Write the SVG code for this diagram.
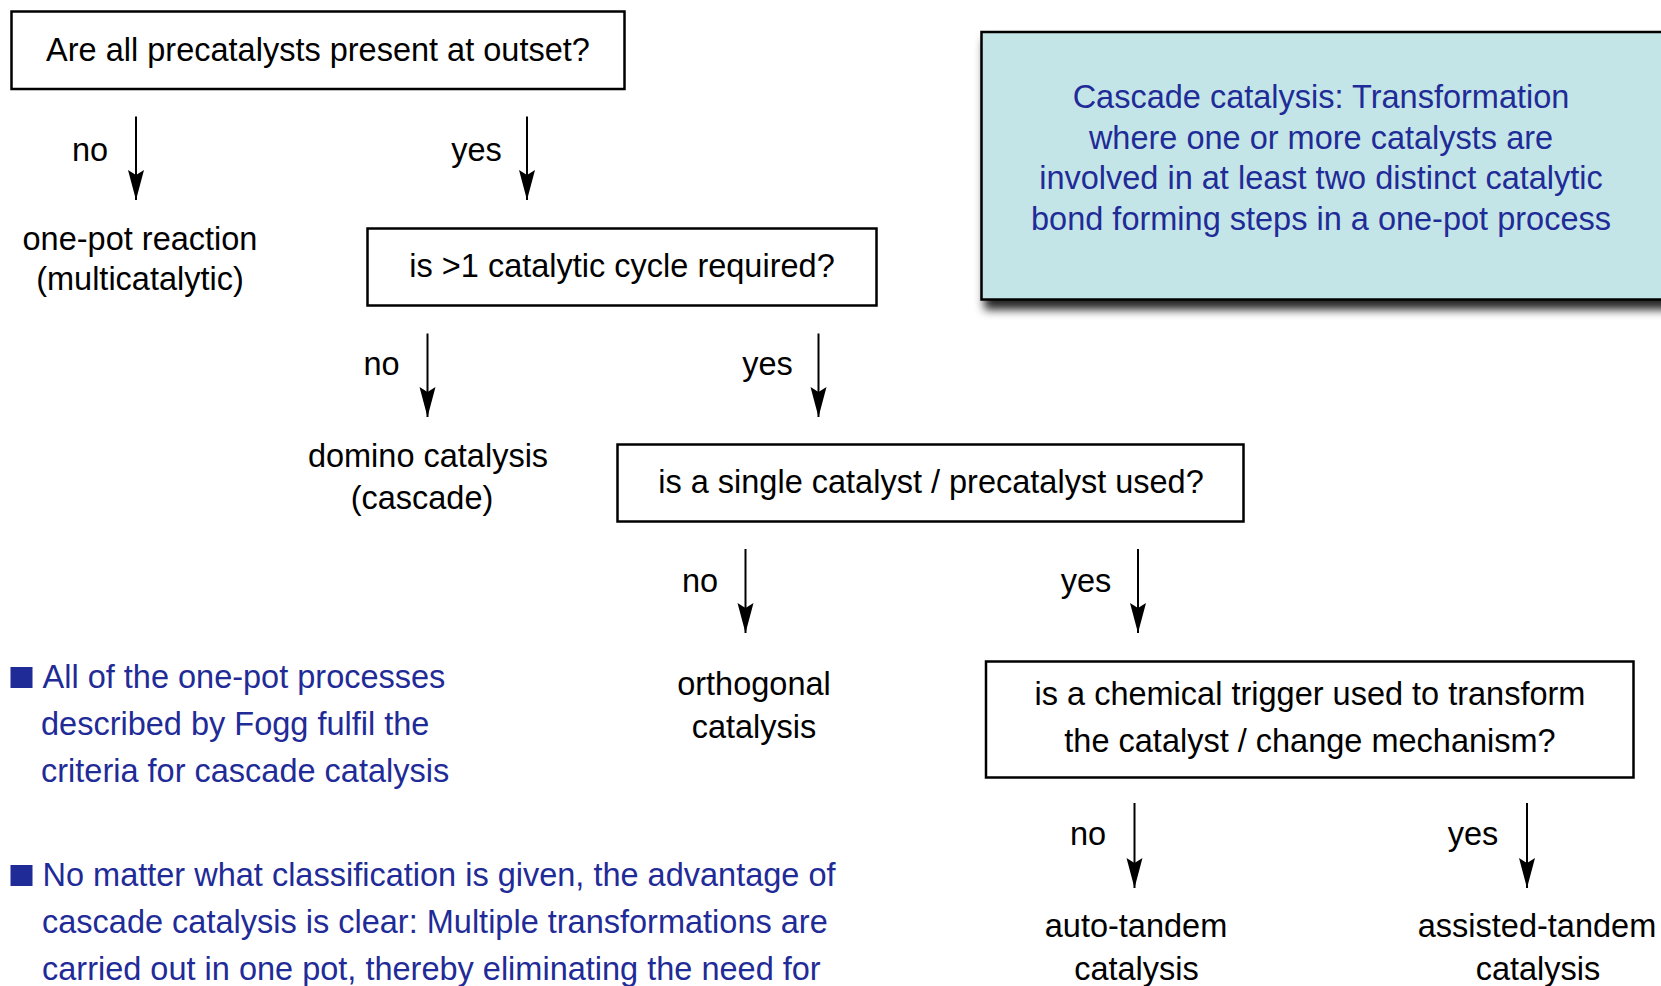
<svg xmlns="http://www.w3.org/2000/svg" width="1661" height="986" viewBox="0 0 1661 986">
<style>
  text { font-family: "Liberation Sans", Arial, Helvetica, sans-serif; font-size: 32.5px; fill: #000; }
  .c { text-anchor: middle; }
  .blue { fill: #1f2b97; }
  .box { fill: #fff; stroke: #000; stroke-width: 2.5; }
  .conn line { stroke: #000; stroke-width: 2; }
</style>
<defs>
  <filter id="shadow" x="-10%" y="-20%" width="130%" height="160%">
    <feDropShadow dx="4" dy="9" stdDeviation="5" flood-color="#000" flood-opacity="0.85"/>
  </filter>
  <marker id="ah" markerUnits="userSpaceOnUse" markerWidth="32" markerHeight="18" refX="30" refY="8" orient="auto" viewBox="0 0 32 16">
    <path d="M0,0 L5,8 L0,16 L30,8 Z" fill="#000"/>
  </marker>
</defs>
<rect width="1661" height="986" fill="#fff"/>

<g id="definition">
  <rect x="981.5" y="32" width="720" height="267.5" fill="#c4e5e7" stroke="#000" stroke-width="2.5" filter="url(#shadow)"/>
  <text class="c blue" x="1321" y="107.5">Cascade catalysis: Transformation</text>
  <text class="c blue" x="1321" y="148.5">where one or more catalysts are</text>
  <text class="c blue" x="1321" y="189">involved in at least two distinct catalytic</text>
  <text class="c blue" x="1321" y="230">bond forming steps in a one-pot process</text>
</g>

<g id="q1">
  <rect class="box" x="11.5" y="11.5" width="613" height="77.5"/>
  <text class="c" x="318" y="61">Are all precatalysts present at outset?</text>
</g>
<g id="onepot">
  <text class="c" x="140" y="250">one-pot reaction</text>
  <text class="c" x="140" y="290">(multicatalytic)</text>
</g>
<g id="q2">
  <rect class="box" x="367.5" y="228.5" width="509" height="77"/>
  <text class="c" x="622" y="277">is &gt;1 catalytic cycle required?</text>
</g>
<g id="domino">
  <text class="c" x="428" y="467">domino catalysis</text>
  <text class="c" x="422" y="509">(cascade)</text>
</g>
<g id="q3">
  <rect class="box" x="617.5" y="444.5" width="626" height="77"/>
  <text class="c" x="931" y="493">is a single catalyst / precatalyst used?</text>
</g>
<g id="orthogonal">
  <text class="c" x="754" y="695">orthogonal</text>
  <text class="c" x="754" y="738">catalysis</text>
</g>
<g id="q4">
  <rect class="box" x="986" y="661.5" width="647.5" height="116"/>
  <text class="c" x="1310" y="705">is a chemical trigger used to transform</text>
  <text class="c" x="1310" y="751.5">the catalyst / change mechanism?</text>
</g>
<g id="autotandem">
  <text class="c" x="1136" y="937">auto-tandem</text>
  <text class="c" x="1136.5" y="980">catalysis</text>
</g>
<g id="assistedtandem">
  <text class="c" x="1537" y="937">assisted-tandem</text>
  <text class="c" x="1538" y="980">catalysis</text>
</g>

<g id="notes">
  <rect x="10.5" y="667" width="22" height="21" fill="#1f2b97"/>
  <text class="blue" x="42.5" y="688">All of the one-pot processes</text>
  <text class="blue" x="41" y="735">described by Fogg fulfil the</text>
  <text class="blue" x="41" y="781.5">criteria for cascade catalysis</text>
  <rect x="10.5" y="865" width="22" height="21" fill="#1f2b97"/>
  <text class="blue" x="42.5" y="886">No matter what classification is given, the advantage of</text>
  <text class="blue" x="42" y="933">cascade catalysis is clear: Multiple transformations are</text>
  <text class="blue" x="42" y="980">carried out in one pot, thereby eliminating the need for</text>
</g>

<g id="connectors" class="conn">
  <line x1="136" y1="116.5" x2="136" y2="200" marker-end="url(#ah)"/>
  <line x1="527" y1="116.5" x2="527" y2="200" marker-end="url(#ah)"/>
  <line x1="427.5" y1="333.5" x2="427.5" y2="417" marker-end="url(#ah)"/>
  <line x1="818.5" y1="333.5" x2="818.5" y2="417" marker-end="url(#ah)"/>
  <line x1="745.5" y1="549" x2="745.5" y2="633" marker-end="url(#ah)"/>
  <line x1="1138" y1="549" x2="1138" y2="633" marker-end="url(#ah)"/>
  <line x1="1134.5" y1="803" x2="1134.5" y2="888" marker-end="url(#ah)"/>
  <line x1="1527" y1="803" x2="1527" y2="888" marker-end="url(#ah)"/>
  <text class="c" x="90" y="161">no</text>
  <text class="c" x="476.5" y="161">yes</text>
  <text class="c" x="381.5" y="375">no</text>
  <text class="c" x="767.5" y="375">yes</text>
  <text class="c" x="700" y="591.5">no</text>
  <text class="c" x="1086" y="591.5">yes</text>
  <text class="c" x="1088" y="845">no</text>
  <text class="c" x="1473" y="845">yes</text>
</g>
</svg>
